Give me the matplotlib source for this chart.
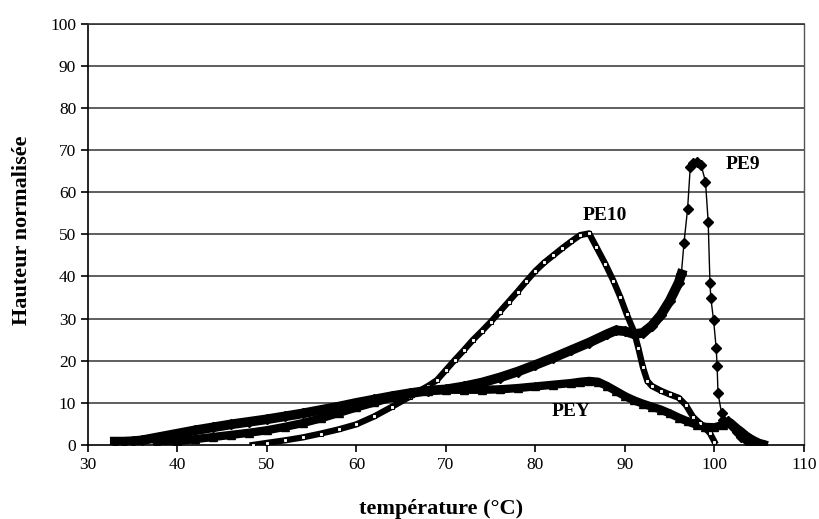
"""
Courbes de hauteur normalisée en fonction de la température
pour les échantillons PE9, PE10 et PEY.
"""

import matplotlib
import matplotlib.pyplot as plt
import numpy as np

matplotlib.use('Agg')

# PE9 : losanges pleins
pe9_temp = [33, 34, 35, 36, 38, 40, 42, 44, 46, 48, 50, 52, 54, 56, 58, 60,
            62, 64, 66, 68, 70, 72, 74, 76, 78, 80, 82, 84, 86, 88, 89, 90,
            91, 92, 93, 94, 95, 96, 96.3, 96.6, 97.0, 97.3, 97.6, 98.0, 98.5,
            99.0, 99.3, 99.5, 99.6, 99.9, 100.2, 100.3, 100.4, 100.8, 101.0,
            101.5, 102, 102.5, 103, 103.5, 104, 104.5, 105]
pe9_height = [0.8, 0.8, 0.9, 1.1, 1.9, 2.7, 3.5, 4.2, 4.9, 5.5, 6.1, 6.8, 7.5,
              8.3, 9.1, 10.0, 10.8, 11.6, 12.3, 12.9, 13.2, 13.9, 14.8, 16.0,
              17.4, 19.0, 20.7, 22.5, 24.3, 26.3, 27.2, 27.0, 26.3, 26.6,
              28.3, 30.8, 34.2, 38.5, 40.5, 48, 56, 66, 67, 67.2, 66.5, 62.5,
              53, 38.5, 34.8, 29.7, 22.9, 18.7, 12.3, 7.5, 5.9, 5.7, 4.5, 3.0,
              2.0, 1.2, 0.7, 0.3, 0.1]

# PE10 : marqueurs creux
pe10_temp = [48.4, 50, 52, 54, 56, 58, 60, 62, 64, 66, 67, 68, 69, 70, 71, 72,
             73, 74, 75, 76, 77, 78, 79, 80, 81, 82, 83, 84, 85, 86, 86.8,
             87.8, 88.7, 89.5, 90.2, 91, 91.5, 92, 92.5, 93, 94, 95, 96,
             96.8, 97.6, 98.4, 99, 99.5, 100]
pe10_height = [0.0, 0.5, 1.1, 1.8, 2.7, 3.7, 4.9, 6.8, 9.1, 11.5, 12.8, 14.0,
               15.4, 17.8, 20.2, 22.5, 24.9, 27.0, 29.2, 31.6, 34.0, 36.4,
               38.9, 41.3, 43.3, 45.0, 46.7, 48.3, 49.8, 50.2, 47.0, 43.0,
               39.0, 35.0, 31.0, 27.0, 23.0, 18.5, 15.2, 14.0, 12.9, 12.0,
               11.2, 9.5, 6.7, 5.1, 3.9, 2.8, 0.8]

# PEY : triangles pleins
pey_temp = [37.7, 40, 42, 44, 46, 48, 50, 52, 54, 56, 58, 60, 62, 64, 66, 68,
            70, 72, 74, 76, 78, 80, 82, 84, 85, 86, 87, 88, 89, 90, 91, 92,
            93, 94, 95, 96, 97, 98, 99, 100, 101, 101.8, 102.5, 103, 103.5,
            104, 104.5, 105, 105.5]
pey_height = [0.3, 0.9, 1.4, 1.9, 2.4, 2.9, 3.5, 4.3, 5.2, 6.3, 7.6, 8.9,
              10.1, 11.3, 12.3, 12.9, 13.1, 13.1, 13.1, 13.2, 13.5, 13.9,
              14.3, 14.7, 15.0, 15.2, 15.0, 14.0, 12.8, 11.6, 10.6, 9.8, 9.1,
              8.4, 7.5, 6.5, 5.6, 4.8, 4.3, 4.2, 4.8, 5.3, 4.0, 3.2, 2.3, 1.6,
              1.0, 0.5, 0.2]

x_ticks = [30, 40, 50, 60, 70, 80, 90, 100, 110]
y_ticks = [0, 10, 20, 30, 40, 50, 60, 70, 80, 90, 100]


def plot_heights():
    """Trace les trois courbes sur un fond à grille horizontale."""
    plt.rcParams['font.family'] = ['Liberation Serif', 'DejaVu Serif']

    fig = plt.figure(figsize=(8.19, 5.19), dpi=100)
    ax = fig.add_axes([0.1074, 0.1426, 0.8742, 0.8121])

    for y in y_ticks[1:]:
        ax.axhline(y, color="#333333", linewidth=1.1, zorder=1)

    # PE10
    ax.plot(pe10_temp, pe10_height, color="black", linewidth=4.5, zorder=2)
    ax.plot(pe10_temp, pe10_height, linestyle="none", marker="s",
            markersize=3.5, markerfacecolor="white", markeredgecolor="black",
            markeredgewidth=0.8, zorder=3)

    # PEY
    ax.plot(pey_temp, pey_height, color="black", linewidth=6, zorder=2)
    ax.plot(pey_temp, pey_height, linestyle="none", marker="^",
            markersize=6, color="black", zorder=3)

    # PE9 : bande épaisse tant que la montée est lente
    pe9_x = np.array(pe9_temp)
    pe9_y = np.array(pe9_height)
    slow = pe9_x <= 96.3
    ax.plot(pe9_x[slow], pe9_y[slow], color="black", linewidth=7, zorder=4)
    ax.plot(pe9_x, pe9_y, color="black", linewidth=1, zorder=4)
    ax.plot(pe9_x, pe9_y, linestyle="none", marker="D", markersize=5.5,
            color="black", zorder=5)

    ax.text(87.7, 54.5, "PE10", fontsize=14, fontweight="bold",
            ha="center", va="center")
    ax.text(103.2, 66.5, "PE9", fontsize=14, fontweight="bold",
            ha="center", va="center")
    ax.text(84.0, 8.0, "PEY", fontsize=14, fontweight="bold",
            ha="center", va="center")

    ax.set_xlim(30, 110)
    ax.set_ylim(0, 100)
    ax.set_xticks(x_ticks)
    ax.set_yticks(y_ticks)
    ax.tick_params(direction="out", length=5, width=1.2, labelsize=12.5,
                   color="black")
    for spine in ax.spines.values():
        spine.set_linewidth(1.2)
        spine.set_color("black")
    ax.spines["top"].set_color("#333333")
    ax.spines["right"].set_color("#555555")
    ax.spines["right"].set_linewidth(1)

    ax.set_xlabel("température (°C)", fontsize=16, fontweight="bold")
    ax.set_ylabel("Hauteur normalisée", fontsize=16, fontweight="bold")
    ax.xaxis.set_label_coords(0.493, -0.128)
    ax.yaxis.set_label_coords(-0.078, 0.51)

    fig.savefig("out.png", dpi=100)


if __name__ == "__main__":
    plot_heights()
